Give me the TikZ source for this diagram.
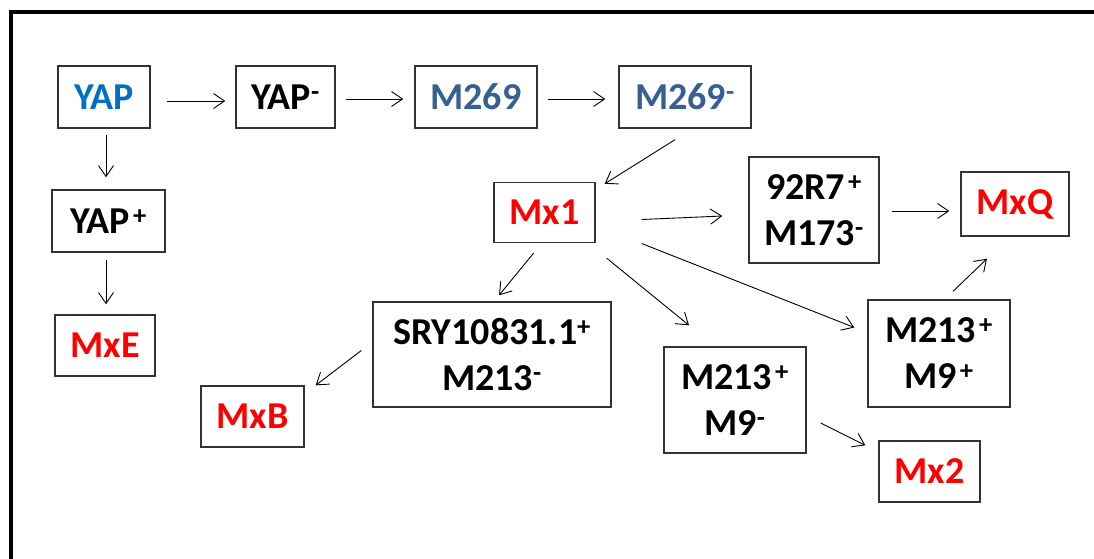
\documentclass[tikz,border=0pt]{standalone}
\usepackage{fontspec}
\setmainfont{Carlito}
\usetikzlibrary{arrows.meta}
\definecolor{yapblue}{HTML}{0070C0}
\definecolor{steel}{HTML}{366092}
\definecolor{hapred}{HTML}{FF0000}
\newcommand{\sminus}{\textsuperscript{-}}
\newcommand{\splus}{\hspace{0.08em}\textsuperscript{+}}
\begin{document}
\begin{tikzpicture}[x=1pt,y=-1pt,
  box/.style={draw=black!80, line width=1.4pt, inner sep=0pt, align=center,
    font=\fontsize{38}{46}\selectfont\bfseries},
  arr/.style={line width=0.9pt, -{Straight Barb[length=11pt,width=15pt]}}]
\useasboundingbox (0,0) rectangle (1094,558);
\fill[white] (0,0) rectangle (1094,558);
% outer frame (open at the bottom)
\draw[line width=4.5pt] (11,570) -- (11,12) -- (1100,12);

% boxes
\node[box, minimum width=92, minimum height=62, text=yapblue] (yap) at (104,97) {YAP};
\node[box, minimum width=99, minimum height=62] (yapm) at (285.5,97) {YAP\sminus};
\node[box, minimum width=122, minimum height=62, text=steel] (m269) at (476,97) {M269};
\node[box, minimum width=132, minimum height=62, text=steel] (m269m) at (685,97) {M269\sminus};
\node[box, minimum width=113, minimum height=62] (yapp) at (108.5,221) {YAP\splus};
\node[box, minimum width=100, minimum height=61, text=hapred] (mxe) at (105,345.5) {MxE};
\node[box, minimum width=101, minimum height=60, text=hapred] (mx1) at (544.5,212.5) {Mx1};
\node[box, minimum width=130, minimum height=106] (n92) at (814,210) {92R7\splus\\M173\sminus};
\node[box, minimum width=108, minimum height=64, text=hapred] (mxq) at (1015,204) {MxQ};
\node[box, minimum width=238, minimum height=105] (sry) at (492,354.5) {SRY10831.1\textsuperscript{+}\\M213\sminus};
\node[box, minimum width=103, minimum height=61, text=hapred] (mxb) at (252.5,416.5) {MxB};
\node[box, minimum width=142, minimum height=106] (m9m) at (735,400) {M213\splus\\M9\sminus};
\node[box, minimum width=142, minimum height=107] (m9p) at (939,353.5) {M213\splus\\M9\splus};
\node[box, minimum width=101, minimum height=61, text=hapred] (mx2) at (929.5,471.5) {Mx2};

% connectors
\draw[arr] ([shift={(16,4)}]yap.east) -- ([shift={(-10,4)}]yapm.west);
\draw[arr] ([shift={(10,2)}]yapm.east) -- ([shift={(-11,2)}]m269.west);
\draw[arr] ([shift={(10,2)}]m269.east) -- ([shift={(-13,2)}]m269m.west);
\draw[arr] ([shift={(-10,11)}]m269m.south) -- ([shift={(9,2)}]mx1.north east);
\draw[arr] ([shift={(2,6)}]yap.south) -- ([shift={(-2.5,-12)}]yapp.north);
\draw[arr] ([shift={(-2.5,7)}]yapp.south) -- ([shift={(1,-10)}]mxe.north);
\draw[arr] ([shift={(46,7)}]mx1.east) -- ([shift={(-26,6)}]n92.west);
\draw[arr] ([shift={(12,1)}]n92.east) -- ([shift={(-11,7)}]mxq.west);
\draw[arr] ([shift={(46,31)}]mx1.east) -- ([shift={(-13,-26)}]m9p.west);
\draw[arr] ([shift={(11,15)}]mx1.south east) -- ([shift={(-46,-21)}]m9m.north);
\draw[arr] ([shift={(-11,10)}]mx1.south) -- ([shift={(7,-6)}]sry.north);
\draw[arr] ([shift={(-11,-4)}]sry.west) -- ([shift={(11,0)}]mxb.north east);
\draw[arr] ([shift={(14,23)}]m9m.east) -- ([shift={(-13,5)}]mx2.north west);
\draw[arr] ([shift={(14,-8)}]m9p.north) -- ([shift={(-28,22)}]mxq.south);
\end{tikzpicture}
\end{document}
